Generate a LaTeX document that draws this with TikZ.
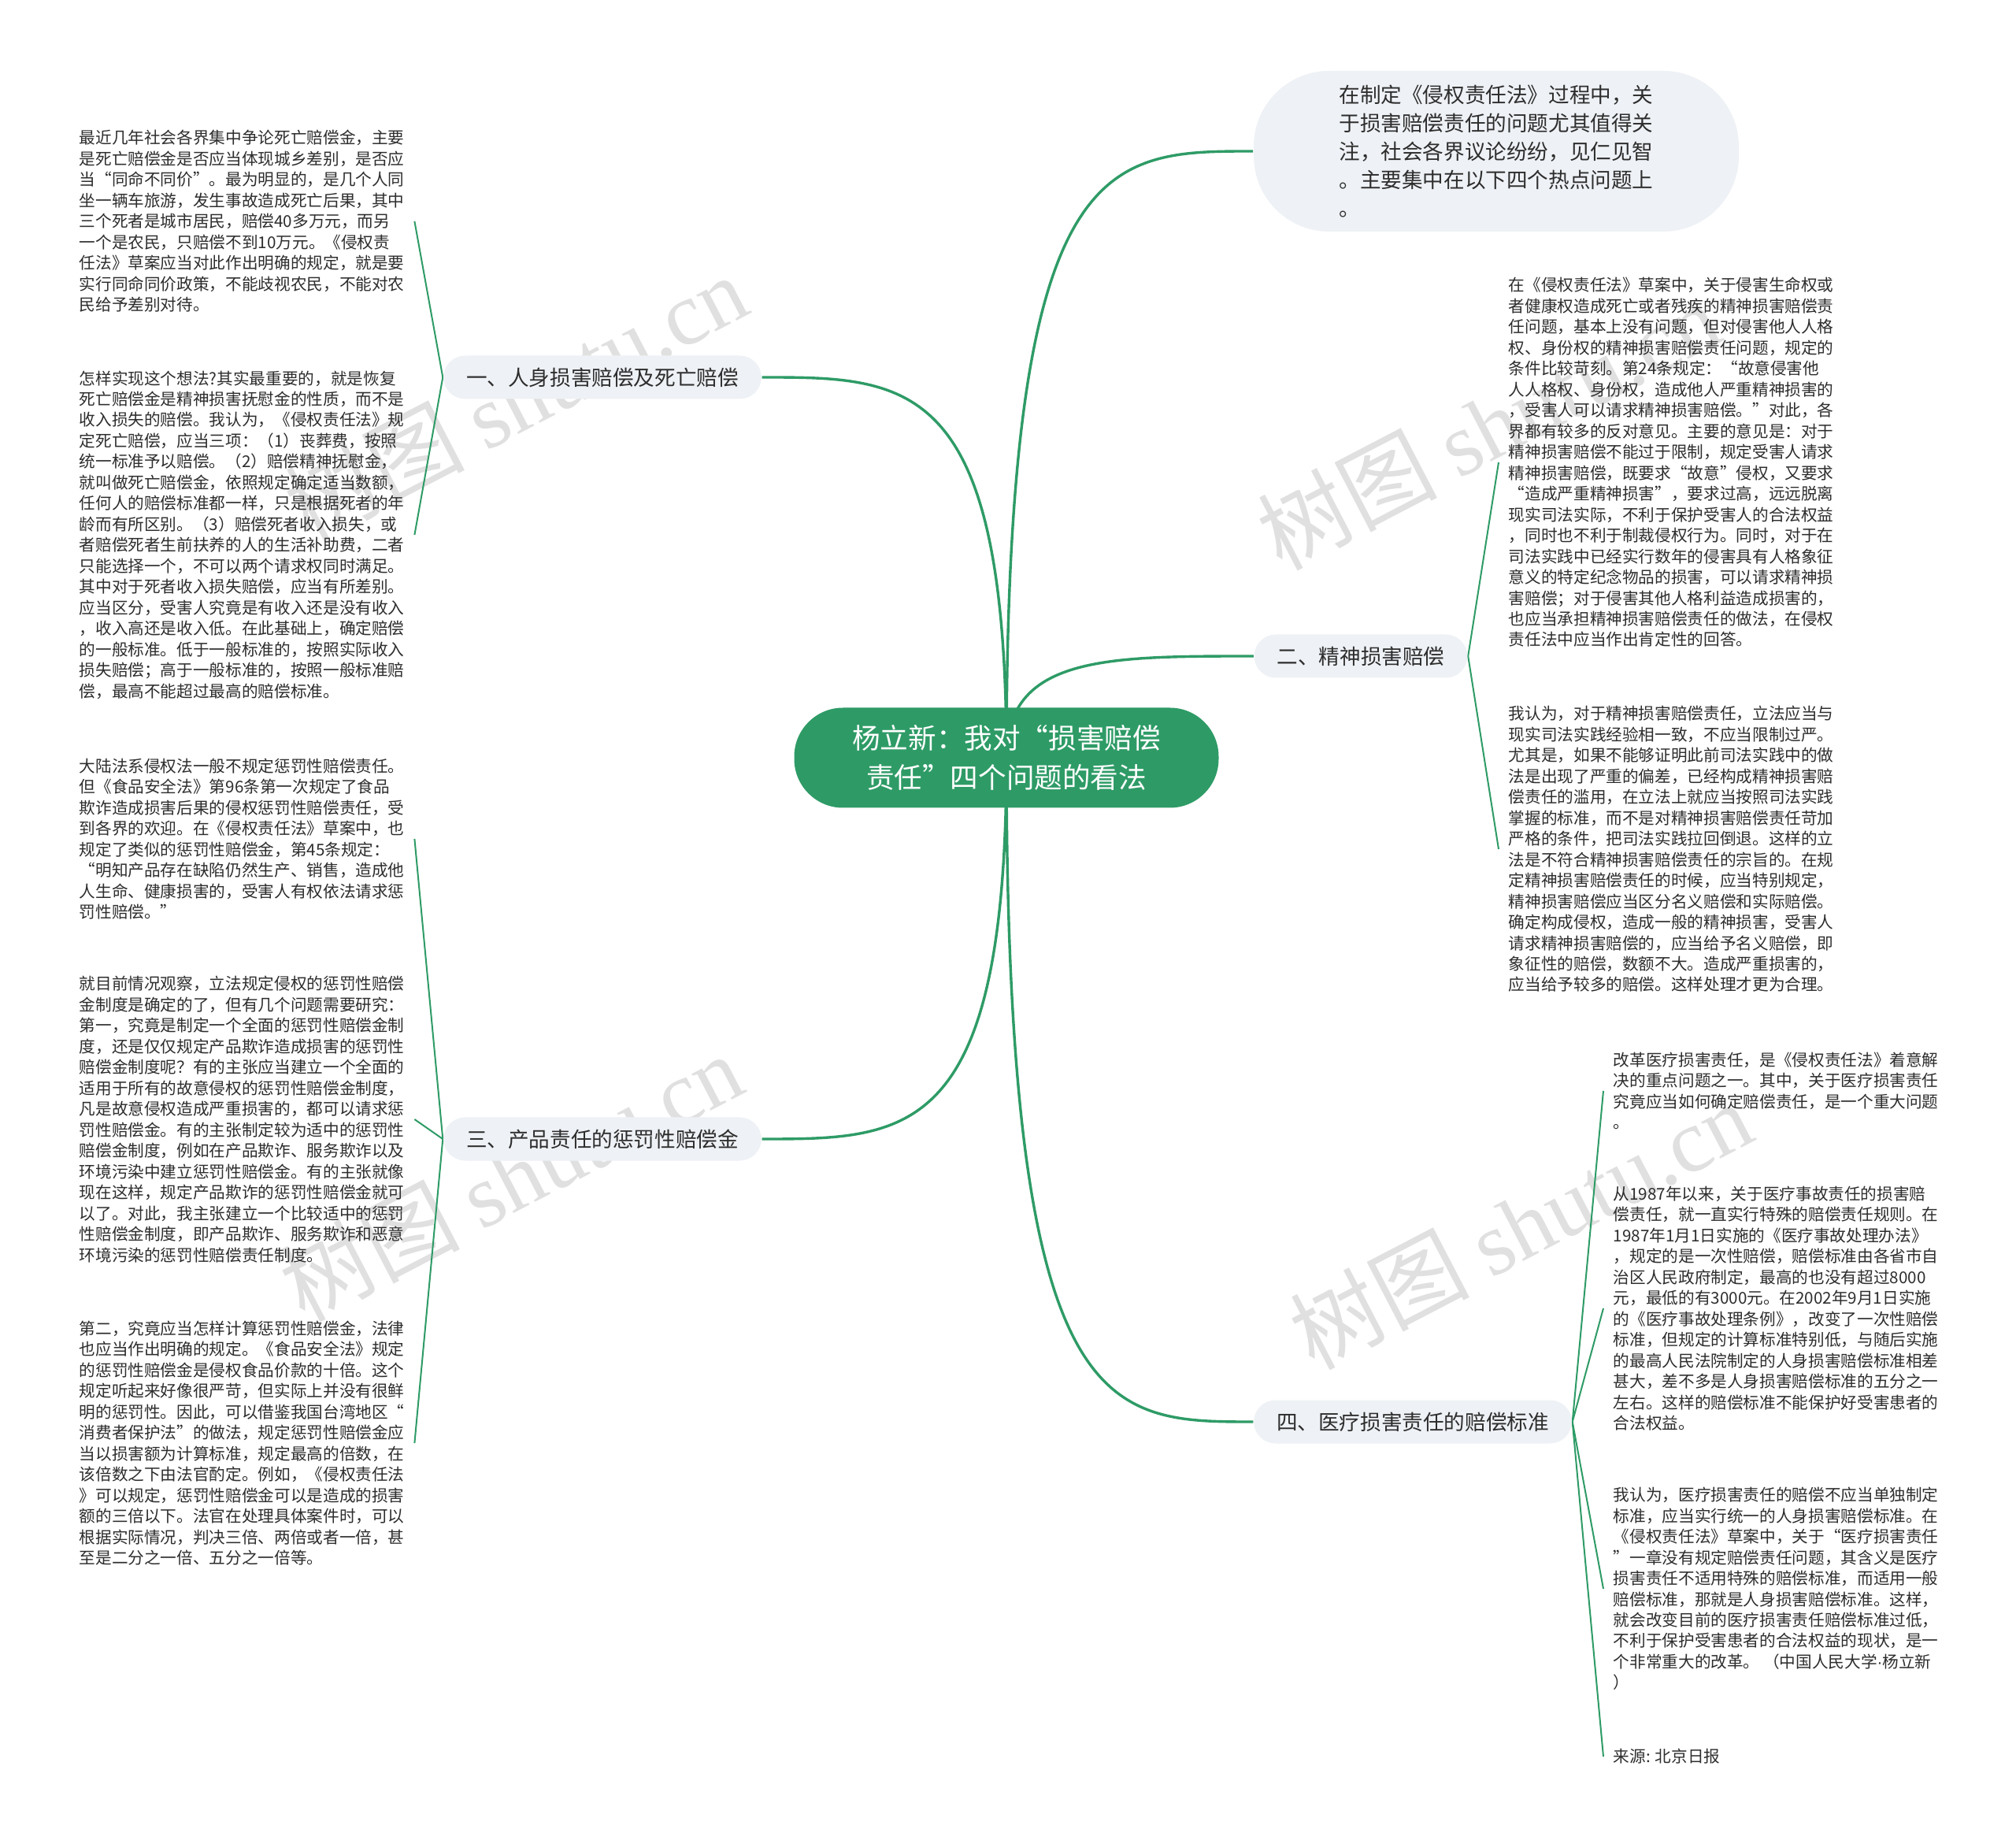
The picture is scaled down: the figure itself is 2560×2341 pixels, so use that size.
\documentclass[tikz,border=0pt]{standalone}
\usepackage{fontspec}
\setmainfont{Noto Sans CJK SC}
\newfontfamily\wmlatin{Liberation Serif}
\newfontfamily\latinsans{Liberation Sans}
\usetikzlibrary{calc,backgrounds}
\definecolor{mmgreen}{RGB}{46,155,102}
\definecolor{pill}{RGB}{238,241,245}
\definecolor{txt}{RGB}{45,45,45}
\definecolor{wmc}{RGB}{224,224,224}
\newcommand\qL{\makebox[1em][r]{“}}
\newcommand\qR{\makebox[1em][l]{”}}
\tikzset{
  blk/.style={font=\fontsize{5.16pt}{6.62pt}\selectfont, align=left, inner xsep=3pt, inner ysep=0pt, text=txt},
  lblk/.style={blk, anchor=west},
  rblk/.style={blk, anchor=west},
  lvl/.style={fill=pill, rounded corners=6.9pt, minimum height=13.75pt, inner xsep=7.25pt, inner ysep=0pt, font=\fontsize{6.65pt}{9pt}\selectfont, text=txt},
  bubble/.style={fill=pill, rounded corners=24pt, minimum width=154pt, minimum height=51pt, align=left, inner sep=0pt, font=\fontsize{6.65pt}{9pt}\selectfont, text=txt},
  rootnode/.style={fill=mmgreen, text=white, rounded corners=15.5pt, minimum width=134.75pt, minimum height=31.75pt, align=center, inner sep=0pt, font=\fontsize{8.9pt}{12.5pt}\selectfont},
  trunk/.style={draw=mmgreen, line width=0.85pt},
  branch/.style={draw=mmgreen, line width=0.5pt},
  wmk/.style={text=wmc, rotate=27.5, font=\fontsize{28.5pt}{28.5pt}\selectfont, inner sep=0pt}
}
\begin{document}
\begin{tikzpicture}[x=0.25pt,y=-0.25pt]
\useasboundingbox (0,0) rectangle (2560,2341);

% central
\node[rootnode] (root) at (1278,962) {杨立新：我对\qL 损害赔偿\\责任\qR 四个问题的看法};

% level 1
\node[bubble] (top) at (1900,192) {在制定《侵权责任法》过程中，关\\于损害赔偿责任的问题尤其值得关\\注，社会各界议论纷纷，见仁见智\\。主要集中在以下四个热点问题上\\。};
\node[lvl] (n1) at (765,479) {一、人身损害赔偿及死亡赔偿};
\node[lvl] (n2) at (1728,833) {二、精神损害赔偿};
\node[lvl] (n3) at (765,1446) {三、产品责任的惩罚性赔偿金};
\node[lvl] (n4) at (1794,1805) {四、医疗损害责任的赔偿标准};

% left blocks
\node[lblk] (l1) at (88,281) {最近几年社会各界集中争论死亡赔偿金，主要\\是死亡赔偿金是否应当体现城乡差别，是否应\\当\qL 同命不同价\qR 。最为明显的，是几个人同\\坐一辆车旅游，发生事故造成死亡后果，其中\\三个死者是城市居民，赔偿40多万元，而另\\一个是农民，只赔偿不到10万元。《侵权责\\任法》草案应当对此作出明确的规定，就是要\\实行同命同价政策，不能歧视农民，不能对农\\民给予差别对待。};
\node[lblk] (l2) at (88,679) {怎样实现这个想法?其实最重要的，就是恢复\\死亡赔偿金是精神损害抚慰金的性质，而不是\\收入损失的赔偿。我认为，《侵权责任法》规\\定死亡赔偿，应当三项：（1）丧葬费，按照\\统一标准予以赔偿。（2）赔偿精神抚慰金，\\就叫做死亡赔偿金，依照规定确定适当数额，\\任何人的赔偿标准都一样，只是根据死者的年\\龄而有所区别。（3）赔偿死者收入损失，或\\者赔偿死者生前扶养的人的生活补助费，二者\\只能选择一个，不可以两个请求权同时满足。\\其中对于死者收入损失赔偿，应当有所差别。\\应当区分，受害人究竟是有收入还是没有收入\\，收入高还是收入低。在此基础上，确定赔偿\\的一般标准。低于一般标准的，按照实际收入\\损失赔偿；高于一般标准的，按照一般标准赔\\偿，最高不能超过最高的赔偿标准。};
\node[lblk] (l3) at (88,1065) {大陆法系侵权法一般不规定惩罚性赔偿责任。\\但《食品安全法》第96条第一次规定了食品\\欺诈造成损害后果的侵权惩罚性赔偿责任，受\\到各界的欢迎。在《侵权责任法》草案中，也\\规定了类似的惩罚性赔偿金，第45条规定：\\\qL 明知产品存在缺陷仍然生产、销售，造成他\\人生命、健康损害的，受害人有权依法请求惩\\罚性赔偿。\qR};
\node[lblk] (l4) at (88,1421) {就目前情况观察，立法规定侵权的惩罚性赔偿\\金制度是确定的了，但有几个问题需要研究：\\第一，究竟是制定一个全面的惩罚性赔偿金制\\度，还是仅仅规定产品欺诈造成损害的惩罚性\\赔偿金制度呢？有的主张应当建立一个全面的\\适用于所有的故意侵权的惩罚性赔偿金制度，\\凡是故意侵权造成严重损害的，都可以请求惩\\罚性赔偿金。有的主张制定较为适中的惩罚性\\赔偿金制度，例如在产品欺诈、服务欺诈以及\\环境污染中建立惩罚性赔偿金。有的主张就像\\现在这样，规定产品欺诈的惩罚性赔偿金就可\\以了。对此，我主张建立一个比较适中的惩罚\\性赔偿金制度，即产品欺诈、服务欺诈和恶意\\环境污染的惩罚性赔偿责任制度。};
\node[lblk] (l5) at (88,1832) {第二，究竟应当怎样计算惩罚性赔偿金，法律\\也应当作出明确的规定。《食品安全法》规定\\的惩罚性赔偿金是侵权食品价款的十倍。这个\\规定听起来好像很严苛，但实际上并没有很鲜\\明的惩罚性。因此，可以借鉴我国台湾地区\qL\\消费者保护法\qR 的做法，规定惩罚性赔偿金应\\当以损害额为计算标准，规定最高的倍数，在\\该倍数之下由法官酌定。例如，《侵权责任法\\》可以规定，惩罚性赔偿金可以是造成的损害\\额的三倍以下。法官在处理具体案件时，可以\\根据实际情况，判决三倍、两倍或者一倍，甚\\至是二分之一倍、五分之一倍等。};

% right blocks
\node[rblk] (r1) at (1903,587) {在《侵权责任法》草案中，关于侵害生命权或\\者健康权造成死亡或者残疾的精神损害赔偿责\\任问题，基本上没有问题，但对侵害他人人格\\权、身份权的精神损害赔偿责任问题，规定的\\条件比较苛刻。第24条规定：\qL 故意侵害他\\人人格权、身份权，造成他人严重精神损害的\\，受害人可以请求精神损害赔偿。\qR 对此，各\\界都有较多的反对意见。主要的意见是：对于\\精神损害赔偿不能过于限制，规定受害人请求\\精神损害赔偿，既要求\qL 故意\qR 侵权，又要求\\\qL 造成严重精神损害\qR ，要求过高，远远脱离\\现实司法实际，不利于保护受害人的合法权益\\，同时也不利于制裁侵权行为。同时，对于在\\司法实践中已经实行数年的侵害具有人格象征\\意义的特定纪念物品的损害，可以请求精神损\\害赔偿；对于侵害其他人格利益造成损害的，\\也应当承担精神损害赔偿责任的做法，在侵权\\责任法中应当作出肯定性的回答。};
\node[rblk] (r2) at (1903,1078) {我认为，对于精神损害赔偿责任，立法应当与\\现实司法实践经验相一致，不应当限制过严。\\尤其是，如果不能够证明此前司法实践中的做\\法是出现了严重的偏差，已经构成精神损害赔\\偿责任的滥用，在立法上就应当按照司法实践\\掌握的标准，而不是对精神损害赔偿责任苛加\\严格的条件，把司法实践拉回倒退。这样的立\\法是不符合精神损害赔偿责任的宗旨的。在规\\定精神损害赔偿责任的时候，应当特别规定，\\精神损害赔偿应当区分名义赔偿和实际赔偿。\\确定构成侵权，造成一般的精神损害，受害人\\请求精神损害赔偿的，应当给予名义赔偿，即\\象征性的赔偿，数额不大。造成严重损害的，\\应当给予较多的赔偿。这样处理才更为合理。};
\node[rblk] (r3) at (2036,1385) {改革医疗损害责任，是《侵权责任法》着意解\\决的重点问题之一。其中，关于医疗损害责任\\究竟应当如何确定赔偿责任，是一个重大问题\\。};
\node[rblk] (r4) at (2036,1661) {从1987年以来，关于医疗事故责任的损害赔\\偿责任，就一直实行特殊的赔偿责任规则。在\\1987年1月1日实施的《医疗事故处理办法》\\，规定的是一次性赔偿，赔偿标准由各省市自\\治区人民政府制定，最高的也没有超过8000\\元，最低的有3000元。在2002年9月1日实施\\的《医疗事故处理条例》，改变了一次性赔偿\\标准，但规定的计算标准特别低，与随后实施\\的最高人民法院制定的人身损害赔偿标准相差\\甚大，差不多是人身损害赔偿标准的五分之一\\左右。这样的赔偿标准不能保护好受害患者的\\合法权益。};
\node[rblk] (r5) at (2036,2017) {我认为，医疗损害责任的赔偿不应当单独制定\\标准，应当实行统一的人身损害赔偿标准。在\\《侵权责任法》草案中，关于\qL 医疗损害责任\\\qR 一章没有规定赔偿责任问题，其含义是医疗\\损害责任不适用特殊的赔偿标准，而适用一般\\赔偿标准，那就是人身损害赔偿标准。这样，\\就会改变目前的医疗损害责任赔偿标准过低，\\不利于保护受害患者的合法权益的现状，是一\\个非常重大的改革。 （中国人民大学{\latinsans ·}杨立新\\）};
\node[rblk] (r6) at (2036,2230) {来源: 北京日报};

\begin{scope}[on background layer]
  \fill[white] (0,0) rectangle (2560,2341);
  % watermark
  \node[wmk] (w1) at (655,505) {树图 {\wmlatin shutu.cn}};
  \node[wmk] (w2) at (1890,540) {树图 {\wmlatin shutu.cn}};
  \node[wmk] (w3) at (649,1494) {树图 {\wmlatin shutu.cn}};
  \node[wmk] (w4) at (1931,1555) {树图 {\wmlatin shutu.cn}};
  % trunk
  \foreach \n/\a in {top/west,n2/west,n4/west,n1/east,n3/east}{
    \draw[trunk] (root.center) .. controls (root.center |- \n.\a) and ($(root.center |- \n.\a)!0.4!(\n.\a)$) .. (\n.\a);
  }
  % branches
  \foreach \p/\pa/\c/\ca in {n1/west/l1/east,n1/west/l2/east,n3/west/l3/east,n3/west/l4/east,n3/west/l5/east,n2/east/r1/west,n2/east/r2/west,n4/east/r3/west,n4/east/r4/west,n4/east/r5/west,n4/east/r6/west}{
    \draw[branch] (\p.\pa) .. controls ($(\p.\pa)!0.5!(\c.\ca)$ |- \p.\pa) and ($(\p.\pa)!0.5!(\c.\ca)$ |- \c.\ca) .. (\c.\ca);
  }
\end{scope}
\end{tikzpicture}
\end{document}
